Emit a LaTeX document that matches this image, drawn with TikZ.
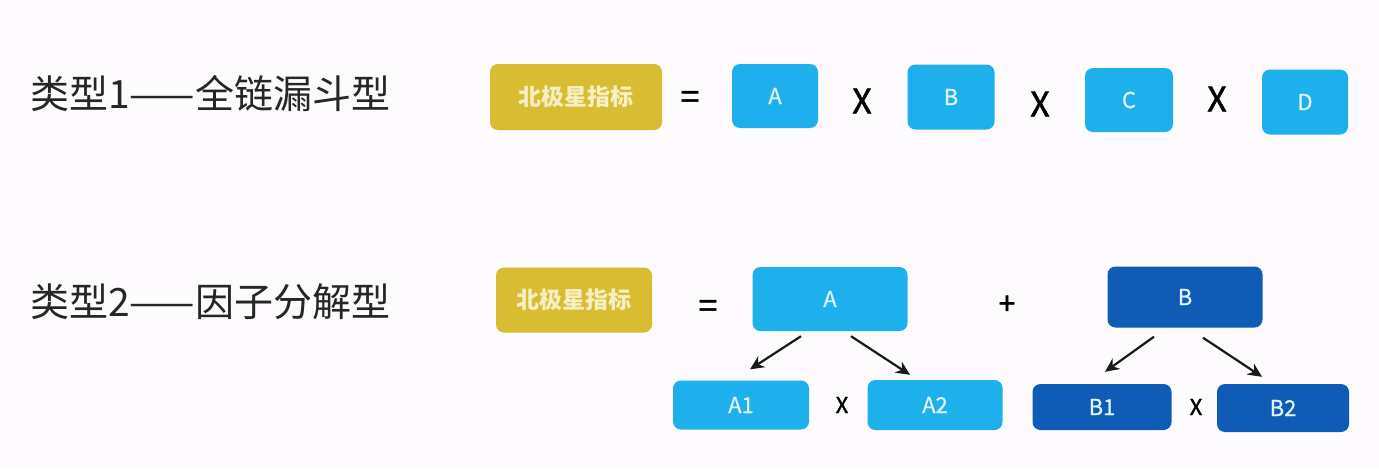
\documentclass[tikz,border=0pt]{standalone}
\usepackage{fontspec}
\setmainfont{Noto Sans CJK SC}
\newfontfamily\opfont[FakeBold=1.5]{Noto Sans CJK SC}
\newfontfamily\boxfont[FakeBold=0.8]{Noto Sans CJK SC}
\usetikzlibrary{arrows.meta}
\definecolor{bgWhite}{RGB}{253, 251, 253}
\definecolor{starGold}{RGB}{216, 188, 50}
\definecolor{starText}{RGB}{246, 239, 196}
\definecolor{lightBlue}{RGB}{29, 176, 236}
\definecolor{darkBlue}{RGB}{16, 91, 181}
\definecolor{boxText}{RGB}{225, 243, 251}
\tikzset{
    title/.style={anchor=west, inner sep=0pt, text=black!85, font=\fontsize{39}{42}\selectfont},
    starbox/.style={fill=starGold, rounded corners=8pt, text=starText, font=\fontsize{23}{25}\selectfont\bfseries},
    lbox/.style={fill=lightBlue, rounded corners=8pt, text=boxText, font=\boxfont\fontsize{22}{24}\selectfont},
    dbox/.style={fill=darkBlue, rounded corners=8pt, text=boxText, font=\boxfont\fontsize{22}{24}\selectfont},
    bigop/.style={inner sep=0pt, font=\opfont\fontsize{34}{36}\selectfont},
    smallop/.style={inner sep=0pt, font=\opfont\fontsize{22}{24}\selectfont},
    arr/.style={-{Stealth[length=14pt,width=13pt]}, line width=2.2pt, black!90}
}
\begin{document}
\begin{tikzpicture}[x=1pt, y=-1pt]
    \useasboundingbox[fill=bgWhite] (0,0) rectangle (1379,469);
    \node[title] (t1) at (30,93) {类型1——全链漏斗型};
    \node[title] (t2) at (30,302) {类型2——因子分解型};

    \node[starbox, minimum width=172pt, minimum height=66pt] (ns1) at (576,97) {北极星指标};
    \node[bigop] (eq1) at (690,100) {=};
    \node[lbox, minimum width=86pt, minimum height=64pt] (a) at (775,96) {A};
    \node[bigop] (x1) at (862,101) {X};
    \node[lbox, minimum width=87pt, minimum height=65pt] (b) at (951,97) {B};
    \node[bigop] (x2) at (1040,104) {X};
    \node[lbox, minimum width=88pt, minimum height=64pt] (c) at (1129,100) {C};
    \node[bigop] (x3) at (1217,99) {X};
    \node[lbox, minimum width=86pt, minimum height=65pt] (d) at (1305,102) {D};

    \node[starbox, minimum width=156pt, minimum height=65pt] (ns2) at (574,300) {北极星指标};
    \node[bigop] (eq2) at (708,309) {=};
    \node[lbox, minimum width=155pt, minimum height=64pt] (fa) at (830,299) {A};
    \node[bigop, font=\opfont\fontsize{30}{32}\selectfont] (plus) at (1007,305) {+};
    \node[dbox, minimum width=155pt, minimum height=61pt] (fb) at (1185,297) {B};
    \node[lbox, minimum width=136pt, minimum height=49pt] (a1) at (741,405) {A1};
    \node[smallop] (x4) at (842,405) {X};
    \node[lbox, minimum width=135pt, minimum height=50pt] (a2) at (935,405) {A2};
    \node[dbox, minimum width=139pt, minimum height=46pt] (b1) at (1102,407) {B1};
    \node[smallop] (x5) at (1196,407) {X};
    \node[dbox, minimum width=132pt, minimum height=48pt] (b2) at (1283,408) {B2};

    \draw[arr] ([xshift=-29pt,yshift=-5pt]fa.south) -- ([xshift=9pt,yshift=11pt]a1.north);
    \draw[arr] ([xshift=21pt,yshift=-5pt]fa.south) -- ([xshift=-25pt,yshift=5pt]a2.north);
    \draw[arr] ([xshift=-31pt,yshift=-9pt]fb.south) -- ([xshift=3pt,yshift=12pt]b1.north);
    \draw[arr] ([xshift=18pt,yshift=-10pt]fb.south) -- ([xshift=-21pt,yshift=7pt]b2.north);
\end{tikzpicture}
\end{document}
